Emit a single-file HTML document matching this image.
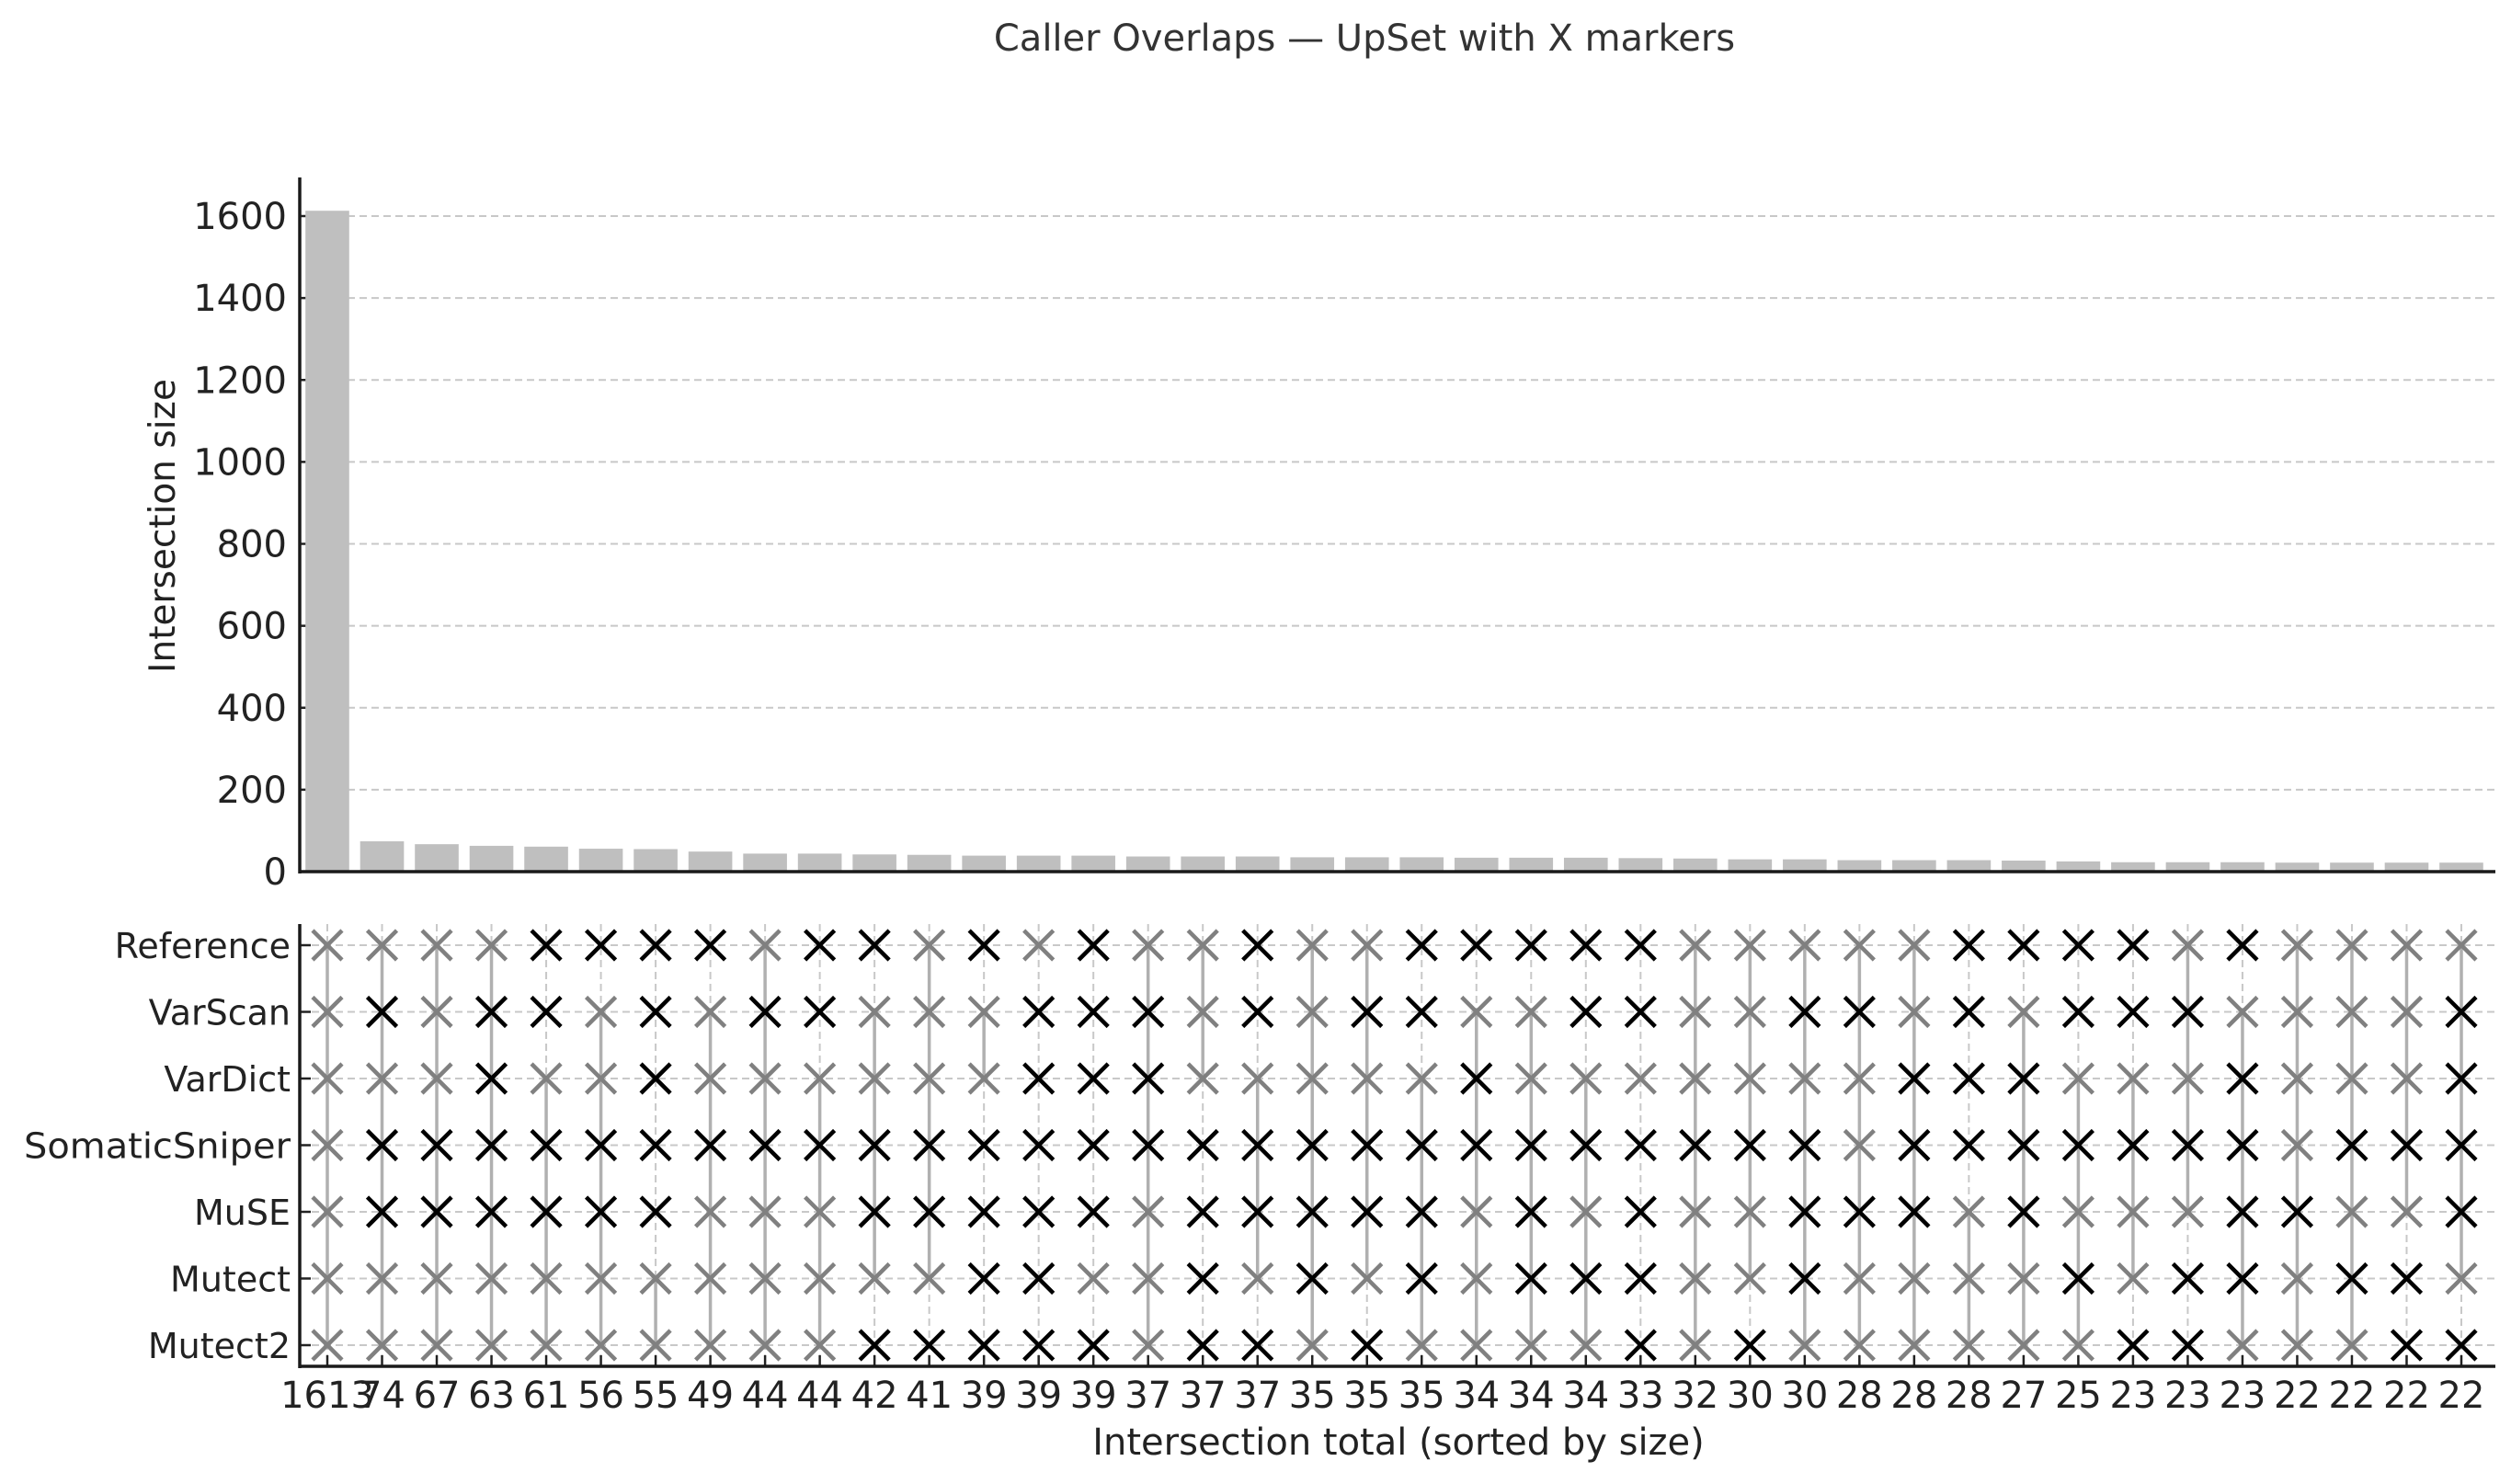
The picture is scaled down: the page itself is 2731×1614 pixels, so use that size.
<!DOCTYPE html>
<html><head><meta charset="utf-8"><style>
html,body{margin:0;padding:0;background:#fff;}
svg{display:block;font-family:"DejaVu Sans","Liberation Sans",sans-serif;}
</style></head><body>
<svg id="chart" width="2731" height="1614" viewBox="0 0 2731 1614" xmlns="http://www.w3.org/2000/svg">
<text x="1484" y="55" text-anchor="middle" font-size="40" fill="#333">Caller Overlaps — UpSet with X markers</text>
<text transform="translate(190,572) rotate(-90)" text-anchor="middle" font-size="39" fill="#222">Intersection size</text>
<text x="1521" y="1582" text-anchor="middle" font-size="40" fill="#222">Intersection total (sorted by size)</text>
<g id="bars"></g>
<g id="matrix"></g>
</svg>
<script>
const sizes = [1613,74,67,63,61,56,55,49,44,44,42,41,39,39,39,37,37,37,35,35,35,34,34,34,33,32,30,30,28,28,28,27,25,23,23,23,22,22,22,22];
const sets = ["Reference","VarScan","VarDict","SomaticSniper","MuSE","Mutect","Mutect2"];
const yTicks = [0,200,400,600,800,1000,1200,1400,1600];
const mReference     = "0000111101101010"+"010011111000001111010000";
const mVarScan       = "0101101011000111"+"010110011001101011100001";
const mVarDict       = "0001001000000111"+"000001000000011100010001";
const mSomaticSniper = "0111111111111111"+"111111111111011111110111";
const mMuSE          = "0111111000111110"+"111110101001110100011001";
const mMutect        = "0000000000001100"+"101010111001000010110110";
const mMutect2       = "0000000000111110"+"110100001010000001100011";
const membership = [mReference,mVarScan,mVarDict,mSomaticSniper,mMuSE,mMutect,mMutect2];

const NS="http://www.w3.org/2000/svg";
function mk(parent,tag,attrs){const e=document.createElementNS(NS,tag);for(const k in attrs)e.setAttribute(k,attrs[k]);parent.appendChild(e);return e;}
const axL=326, axR=2714, x0=356, dx=(2677-356)/39;
const xPos = i => x0 + i*dx;
const yBase=948, yTop=193, yScale=(948-235)/1600;
const yBar = v => yBase - v*yScale;
const rowY = r => 1028 + r*72.5;
const mTop=1005, mBot=1486;

const bars=document.getElementById('bars');
yTicks.forEach(t=>{
  const y=yBar(t);
  if(t>0){
    const g=mk(bars,'line',{x1:axL,x2:axR,y1:y,y2:y,stroke:'#c8c8c8','stroke-width':2,'stroke-dasharray':'8,5'});
    
    
  }
  const tk=mk(bars,'line',{x1:axL,x2:axL+12,y1:y,y2:y,stroke:'#222','stroke-width':2.5});
  
  
  const lb=mk(bars,'text',{x:axL-14,y:y+14,'text-anchor':'end','font-size':40,fill:'#222'});
  lb.textContent=t;
  
  
});
sizes.forEach((v,i)=>{
  const w=dx*0.8;
  const r=mk(bars,'rect',{x:xPos(i)-w/2,y:yBar(v),width:w,height:yBase-yBar(v),fill:'#bfbfbf'});
  
  
});
mk(bars,'line',{x1:axL,x2:axL,y1:yTop,y2:yBase+2,stroke:'#1a1a1a','stroke-width':3.5});
mk(bars,'line',{x1:axL,x2:axR,y1:yBase,y2:yBase,stroke:'#1a1a1a','stroke-width':3.5});

const mx=document.getElementById('matrix');
sets.forEach((s,r)=>{
  const y=rowY(r);
  const g=mk(mx,'line',{x1:axL,x2:axR,y1:y,y2:y,stroke:'#c8c8c8','stroke-width':2,'stroke-dasharray':'8,5'});
  
  
  mk(mx,'line',{x1:axL,x2:axL+12,y1:y,y2:y,stroke:'#222','stroke-width':2.5});
  const lb=mk(mx,'text',{x:axL-10,y:y+14,'text-anchor':'end','font-size':38,fill:'#222'});
  lb.textContent=s;
  
  
  if(s==="SomaticSniper"){ lb.setAttribute('textLength','290'); lb.setAttribute('lengthAdjust','spacingAndGlyphs'); }
});
sizes.forEach((v,i)=>{
  const x=xPos(i);
  const g=mk(mx,'line',{x1:x,x2:x,y1:mTop,y2:mBot,stroke:'#c8c8c8','stroke-width':2,'stroke-dasharray':'8,5'});
  
  
  const gray=[];
  membership.forEach((m,r)=>{ if(m[i]==='0') gray.push(r); });
  if(gray.length>0){
    const l=mk(mx,'line',{x1:x,x2:x,y1:rowY(Math.min(...gray)),y2:rowY(Math.max(...gray)),stroke:'#b0b0b0','stroke-width':3.5});
    
    
  }
  membership.forEach((m,r)=>{
    const y=rowY(r), h=16, on=m[i]==='1';
    const p=mk(mx,'path',{d:`M${x-h},${y-h}L${x+h},${y+h}M${x-h},${y+h}L${x+h},${y-h}`,stroke:on?'#000':'#808080','stroke-width':4.5,fill:'none'});
    
    
  });
  mk(mx,'line',{x1:x,x2:x,y1:mBot,y2:mBot-12,stroke:'#222','stroke-width':2.5});
  const lb=mk(mx,'text',{x:x,y:1531,'text-anchor':'middle','font-size':40,fill:'#222'});
  lb.textContent=v;
  
  
});
mk(mx,'line',{x1:axL,x2:axL,y1:mTop,y2:mBot+2,stroke:'#1a1a1a','stroke-width':3.5});
mk(mx,'line',{x1:axL,x2:axR,y1:mBot,y2:mBot,stroke:'#1a1a1a','stroke-width':3.5});
</script>
</body></html>
